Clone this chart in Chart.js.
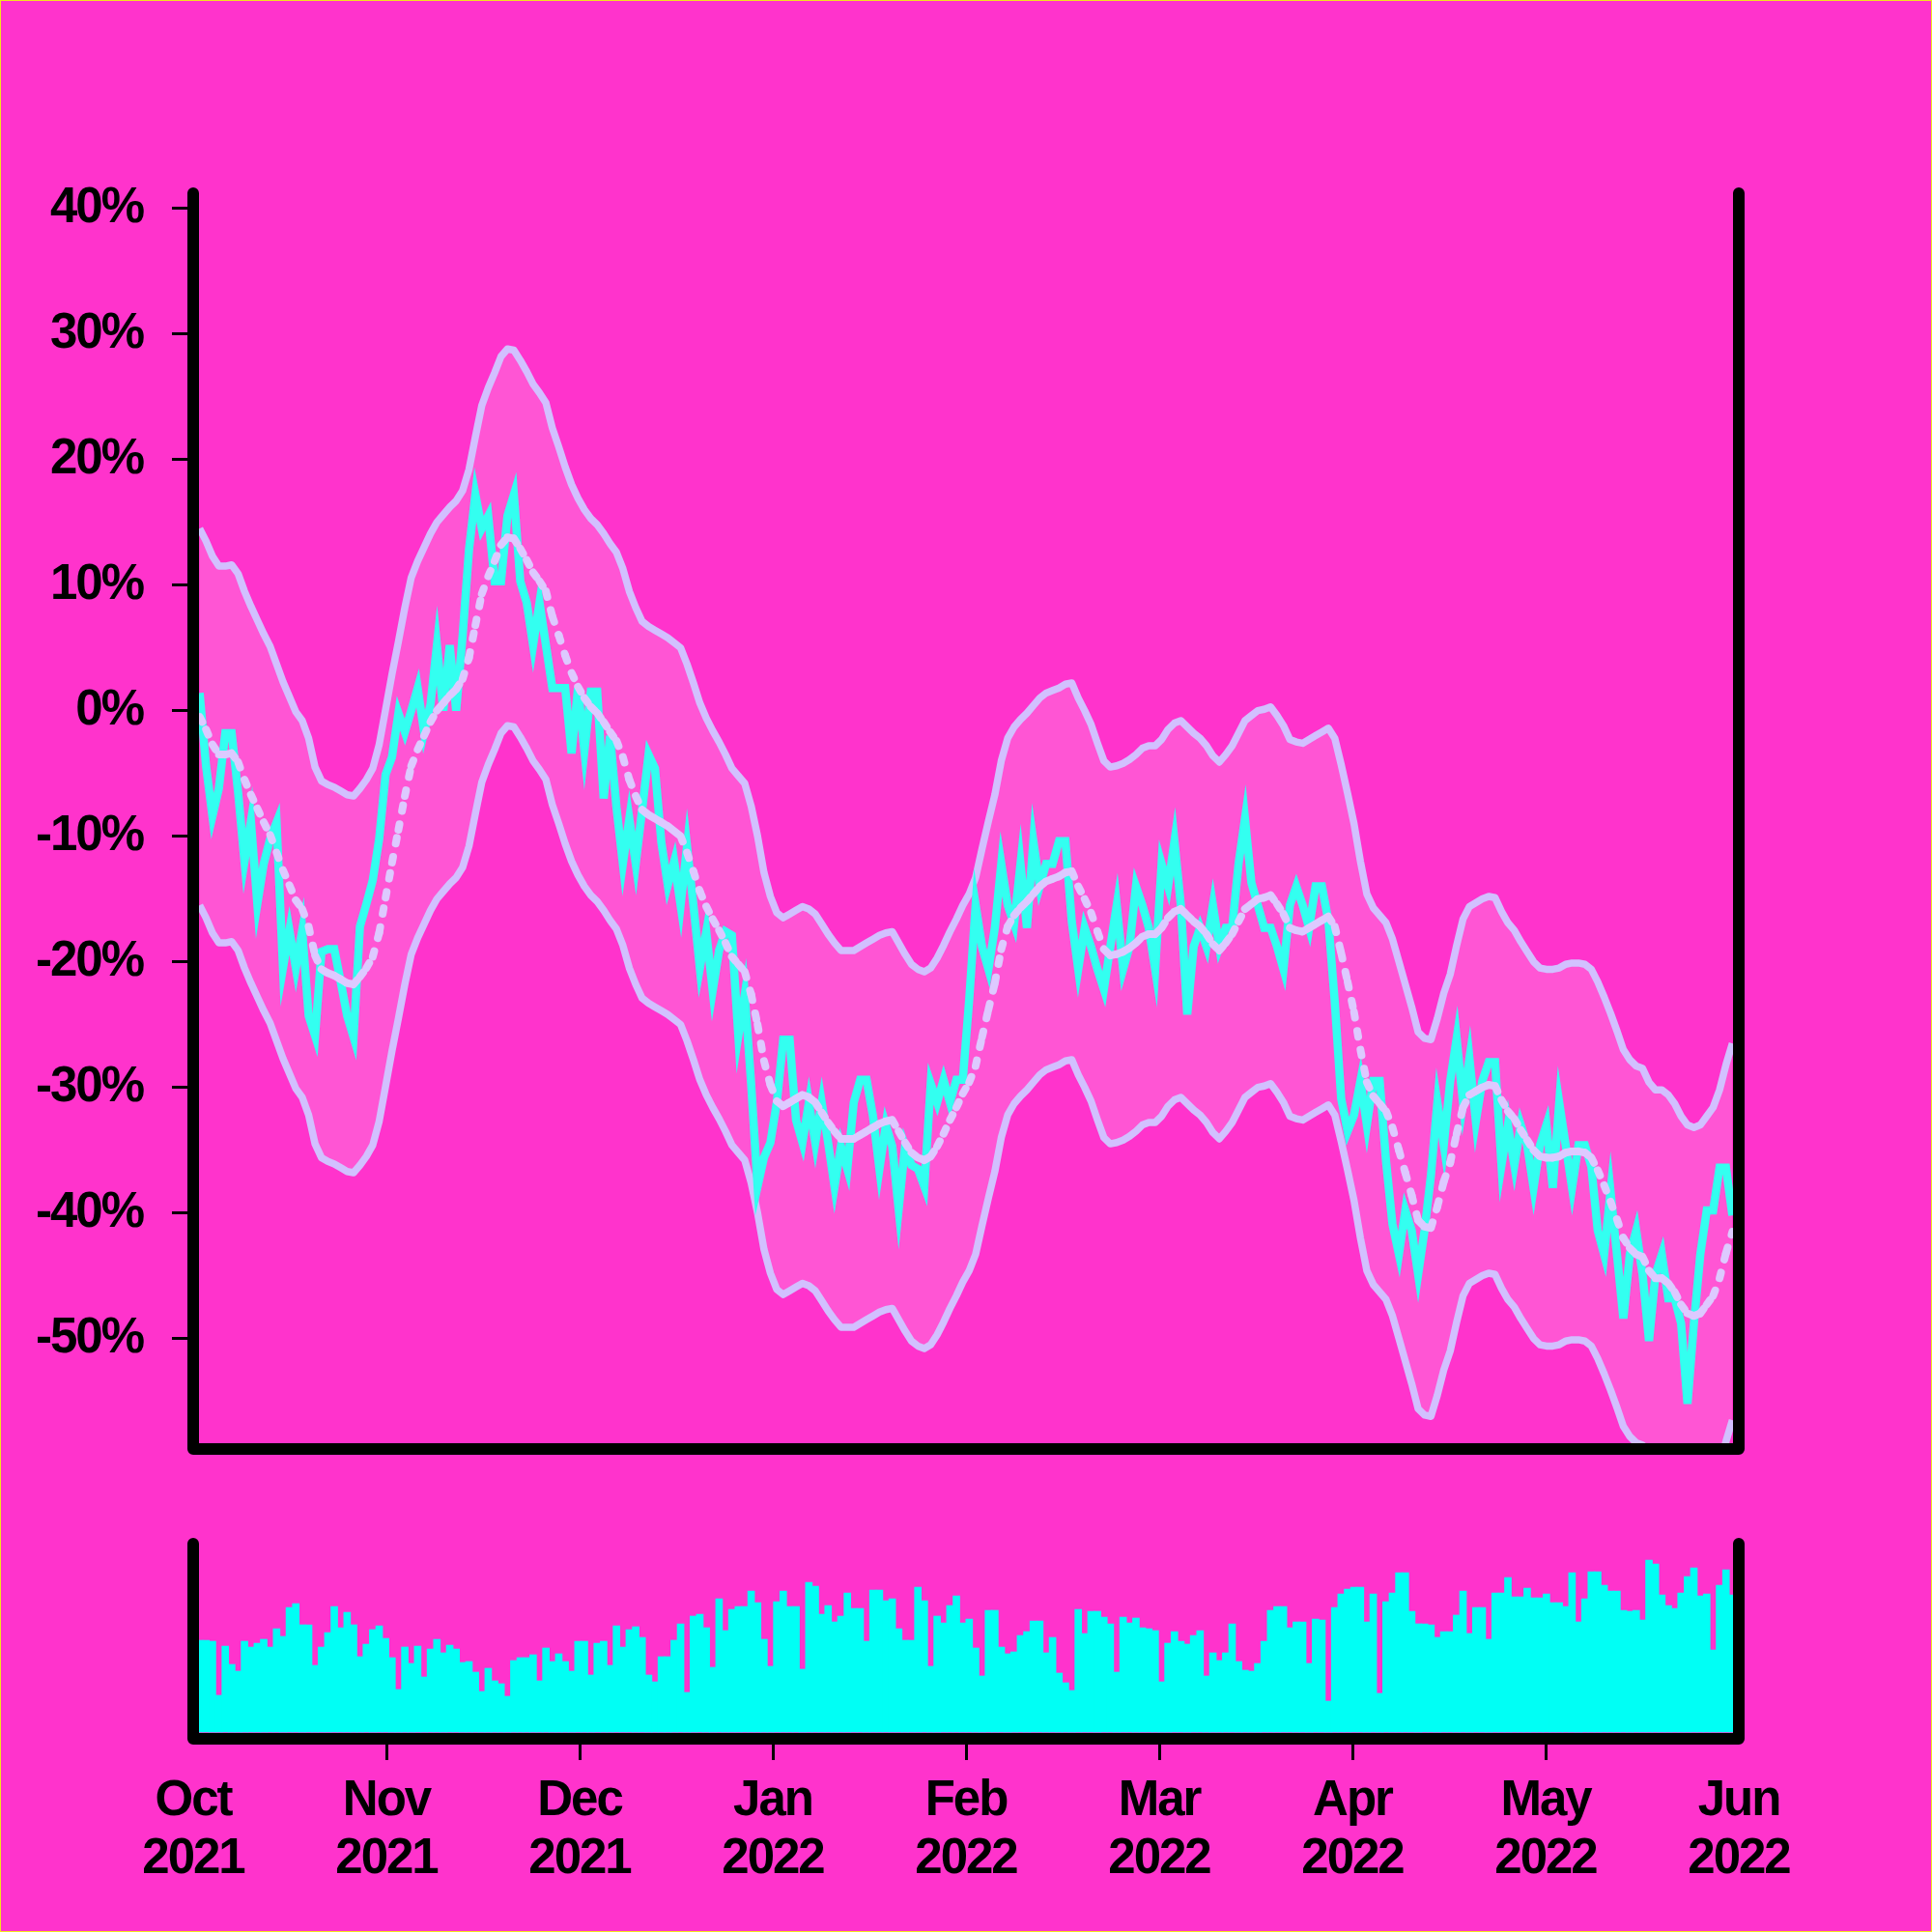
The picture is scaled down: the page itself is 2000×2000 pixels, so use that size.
<!DOCTYPE html>
<html lang="en">
<head>
  <meta charset="UTF-8">
  <title>Return bands and volume</title>
  <style>
    html, body { margin: 0; padding: 0; background: #ff33cc; }
    .page { position: relative; width: 2000px; height: 2000px; overflow: hidden; }
    .page canvas { position: absolute; left: 0; }
    #mainChart { top: 0; }
    #volChart { top: 1540px; }
    .edge { position: absolute; left: 0; top: 0; width: 2000px; height: 2000px; box-sizing: border-box; border: 1px solid #f4e41c; pointer-events: none; }
  </style>
</head>
<body>
  <div class="page">
    <canvas id="mainChart" width="2000" height="1600"></canvas>
    <canvas id="volChart" width="2000" height="460"></canvas>
    <div class="edge"></div>
  </div>

  <script src="https://cdn.jsdelivr.net/npm/chart.js"></script>
  <script>
  // daily values, Oct 2021 - Jun 2022 (one per trading day)
  const monthLabels = [['Oct', '2021'], ['Nov', '2021'], ['Dec', '2021'], ['Jan', '2022'], ['Feb', '2022'],
                       ['Mar', '2022'], ['Apr', '2022'], ['May', '2022'], ['Jun', '2022']]
  const yTicks = [40, 30, 20, 10, 0, -10, -20, -30, -40, -50]

  // cumulative return, %
  const returns = [
    1.4, -4.4, -8.4, -6.2, -1.8, -1.8, -6.5, -12, -8.8, -15.4,
    -12.2, -10.2, -8.9, -20.5, -17.5, -20.5, -17.5, -24.3, -25.9, -19.2,
    -19, -19, -21.6, -24.3, -26, -17.2, -15.4, -13.5, -10.2, -5.1,
    -3.7, -0.2, -1.7, 0, 1.8, -1.7, 0.5, 5.2, 0, 5.2,
    0, 5.9, 12.8, 17.2, 14.5, 15.5, 10.3, 10.3, 15.5, 17.2,
    10.3, 8.6, 5.2, 8.6, 5.2, 1.8, 1.8, 1.8, -3.4, 1.8,
    -3.2, 1.5, 1.5, -7, -2, -7.7, -12.2, -8.6, -12.2, -7.9,
    -3.5, -4.6, -10.5, -13.9, -12, -15.5, -10.8, -15.5, -20.5, -17.6,
    -22.3, -19.1, -17.6, -17.9, -25.9, -22.6, -29.7, -37.9, -35.6, -34.4,
    -31.2, -26.2, -26.2, -32.6, -34.4, -31.2, -34.4, -31.2, -34.4, -37.9,
    -34.7, -36.5, -31.2, -29.4, -29.4, -32.3, -36.5, -33, -34.7, -39.7,
    -34.7, -36.2, -36.5, -37.9, -29.7, -31.2, -29.4, -31.2, -29.4, -29.4,
    -23, -15.5, -18.8, -20.6, -17.3, -12.2, -15.5, -17, -12.2, -17.3,
    -10.4, -14, -12.2, -12.2, -10.4, -10.4, -16.8, -20.6, -17.3, -18.8,
    -20.6, -22.2, -18.8, -15.5, -20.6, -18.8, -14, -15.5, -17.3, -20.6,
    -12.2, -14, -10.4, -15.5, -24.2, -18.8, -17.3, -18.8, -15.5, -18.8,
    -17.3, -17.3, -12.2, -8.6, -13.7, -15.5, -17.3, -17.3, -18.8, -20.6,
    -15.5, -14, -15.5, -17.3, -14, -14, -16.7, -23.2, -30.9, -33.5,
    -32.2, -29.5, -33, -29.5, -29.5, -35.9, -40.9, -43.3, -39.8, -41.4,
    -44.9, -41.4, -37, -31.2, -34.6, -29.5, -26.1, -31.2, -27.7, -32.7,
    -29.5, -28, -28, -36.2, -33, -36.2, -33, -34.6, -38, -34.6,
    -33, -38, -31.2, -34.6, -38, -34.6, -34.6, -36.3, -41.4, -43.3,
    -38.3, -43.3, -48.4, -43.3, -41.4, -44.9, -50.2, -44.9, -43.3, -46.8,
    -46.8, -48.8, -55.2, -48.8, -43.3, -39.8, -39.8, -36.4, -36.4, -40.2
  ]

  // rolling mean of the return, %
  const rollingMean = [
    -0.5, -1.5, -2.7, -3.5, -3.5, -3.4, -4.1, -5.5, -6.7, -7.8,
    -8.9, -9.9, -11.3, -12.7, -13.9, -15.1, -15.8, -17.2, -19.5, -20.6,
    -20.9, -21.1, -21.4, -21.7, -21.8, -21.2, -20.5, -19.6, -17.7, -14.9,
    -12.1, -9.5, -6.8, -4.4, -3.1, -2, -0.9, 0, 0.6, 1.2,
    1.7, 2.5, 4.2, 6.8, 9.3, 10.7, 11.9, 13.2, 13.8, 13.7,
    12.9, 12, 11, 10.3, 9.5, 7.5, 6, 4.4, 3, 1.9,
    1, 0.3, -0.2, -0.9, -1.7, -2.4, -3.7, -5.5, -6.8, -7.9,
    -8.3, -8.6, -8.9, -9.2, -9.6, -10, -11.3, -12.8, -14.4, -15.6,
    -16.6, -17.5, -18.5, -19.6, -20.2, -20.8, -22.6, -25, -27.9, -29.8,
    -31.1, -31.5, -31.2, -30.9, -30.6, -30.8, -31.2, -32, -32.8, -33.5,
    -34.1, -34.1, -34.1, -33.8, -33.5, -33.2, -32.9, -32.7, -32.6, -33.5,
    -34.4, -35.2, -35.6, -35.8, -35.5, -34.7, -33.7, -32.6, -31.6, -30.5,
    -29.6, -28.3, -26, -23.8, -21.7, -19, -17.2, -16.3, -15.7, -15.2,
    -14.6, -14, -13.6, -13.4, -13.2, -12.9, -12.8, -14, -15, -16.1,
    -17.6, -19, -19.5, -19.4, -19.2, -18.9, -18.5, -18, -17.8, -17.8,
    -17.3, -16.5, -16, -15.8, -16.3, -16.8, -17.2, -17.8, -18.6, -19.1,
    -18.5, -17.8, -16.8, -15.8, -15.4, -15, -14.9, -14.7, -15.4, -16.2,
    -17.3, -17.5, -17.6, -17.3, -17, -16.7, -16.4, -17.2, -19.3, -21.6,
    -24, -27, -29.6, -30.7, -31.3, -31.9, -33.2, -35, -36.8, -38.6,
    -40.6, -41.1, -41.2, -39.5, -37.5, -36, -33.7, -31.6, -30.6, -30.3,
    -30, -29.8, -29.9, -31, -31.9, -32.5, -33.4, -34.2, -35, -35.5,
    -35.6, -35.6, -35.5, -35.2, -35.1, -35.1, -35.2, -35.6, -36.6, -37.8,
    -39.1, -40.5, -42, -42.8, -43.3, -43.5, -44.6, -45.2, -45.2, -45.6,
    -46.3, -47.3, -48, -48.2, -48, -47.3, -46.6, -45.2, -43.2, -41.5
  ]
  const bandHalfWidth = 15

  // traded volume (no scale shown)
  const volume = [
    95, 95, 94, 38, 89, 70, 63, 94, 88, 92,
    96, 88, 107, 99, 129, 133, 111, 111, 69, 88,
    103, 130, 108, 124, 111, 78, 91, 106, 110, 97,
    77, 44, 88, 71, 89, 57, 86, 96, 82, 90,
    86, 72, 73, 62, 42, 66, 53, 50, 37, 74,
    77, 77, 80, 53, 87, 73, 81, 73, 63, 94,
    94, 59, 92, 94, 69, 110, 88, 106, 109, 98,
    59, 52, 78, 78, 95, 112, 41, 120, 122, 108,
    67, 138, 105, 127, 130, 130, 146, 134, 96, 68,
    135, 146, 130, 130, 65, 155, 151, 122, 131, 114,
    120, 144, 128, 128, 94, 147, 147, 136, 138, 107,
    95, 95, 150, 136, 68, 120, 113, 131, 141, 113,
    117, 87, 58, 126, 126, 88, 81, 83, 100, 104,
    115, 115, 82, 98, 61, 51, 43, 127, 102, 125,
    125, 119, 112, 62, 119, 113, 118, 108, 107, 105,
    52, 92, 104, 94, 91, 100, 105, 58, 82, 74,
    82, 112, 73, 64, 63, 71, 94, 126, 130, 130,
    108, 114, 114, 71, 117, 116, 32, 129, 143, 148,
    150, 150, 114, 143, 40, 135, 144, 165, 165, 125,
    112, 112, 111, 98, 104, 104, 121, 146, 102, 129,
    129, 96, 144, 144, 160, 140, 140, 149, 139, 139,
    143, 134, 134, 130, 165, 114, 138, 166, 166, 152,
    146, 146, 126, 125, 126, 116, 178, 174, 142, 131,
    128, 144, 161, 170, 141, 143, 85, 152, 168, 142
  ]

  const xMax = 241
  const monthTicks = monthLabels.map((_, i) => i * xMax / (monthLabels.length - 1))
  const toPoints = arr => arr.map((v, i) => ({x: i + 1, y: v}))

  const fontFamily = "'Liberation Sans', Arial, sans-serif"
  const tickFont = {family: fontFamily, size: 51, weight: 'bold', lineHeight: 1.18}

  // tighter tracking on the tick labels, and the black frame with round ends
  const framePlugin = {
    id: 'frame',
    beforeUpdate: (chart) => { chart.ctx.letterSpacing = '-2px' },
    beforeDraw: (chart) => { chart.ctx.letterSpacing = '-2px' },
    afterDraw: (chart) => {
      const {ctx, chartArea} = chart
      ctx.save()
      ctx.strokeStyle = '#000'
      ctx.lineWidth = 12
      ctx.lineCap = 'round'
      ctx.lineJoin = 'round'
      ctx.beginPath()
      ctx.moveTo(chartArea.left, chartArea.top)
      ctx.lineTo(chartArea.left, chartArea.bottom)
      ctx.lineTo(chartArea.right, chartArea.bottom)
      ctx.lineTo(chartArea.right, chartArea.top)
      ctx.stroke()
      ctx.restore()
    }
  }

  const bandColor = '#d2c0ff'

  new Chart(document.getElementById('mainChart'), {
    type: 'line',
    data: {
      datasets: [
        {
          data: toPoints(rollingMean.map(v => v + bandHalfWidth)),
          borderColor: bandColor,
          borderWidth: 7.5,
          borderJoinStyle: 'round',
          backgroundColor: 'rgba(255,255,255,0.17)',
          fill: '+1',
          pointRadius: 0,
          order: 3
        },
        {
          data: toPoints(rollingMean.map(v => v - bandHalfWidth)),
          borderColor: bandColor,
          borderWidth: 7.5,
          borderJoinStyle: 'round',
          fill: false,
          pointRadius: 0,
          order: 2
        },
        {
          data: toPoints(returns),
          borderColor: '#33fff0',
          borderWidth: 8.5,
          borderJoinStyle: 'miter',
          fill: false,
          pointRadius: 0,
          order: 1
        },
        {
          data: toPoints(rollingMean),
          borderColor: '#ddc9ff',
          borderWidth: 8,
          borderDash: [6, 14],
          borderCapStyle: 'round',
          fill: false,
          pointRadius: 0,
          order: 0,
          // each day's segment restarts the dash, so flat stretches look solid
          segment: {
            borderDashOffset: c => (c.p0DataIndex % 2) * 0.01
          }
        }
      ]
    },
    options: {
      responsive: false,
      animation: false,
      events: [],
      layout: {padding: {left: 0, right: 200, top: 200, bottom: 100}},
      plugins: {legend: {display: false}, tooltip: {enabled: false}},
      scales: {
        x: {type: 'linear', display: false, min: 0, max: xMax},
        y: {
          min: -58.8,
          max: 41.2,
          afterFit: (scale) => { scale.width = 200 },
          afterBuildTicks: (scale) => { scale.ticks = yTicks.map(v => ({value: v})) },
          border: {display: false},
          grid: {drawOnChartArea: false, tickLength: 22, tickWidth: 3, tickColor: '#000'},
          ticks: {color: '#000', font: tickFont, padding: 30, callback: v => v + '%'}
        }
      }
    },
    plugins: [framePlugin]
  })

  new Chart(document.getElementById('volChart'), {
    type: 'bar',
    data: {
      datasets: [{
        data: toPoints(volume),
        backgroundColor: '#00fff5',
        borderWidth: 0,
        barThickness: 7
      }]
    },
    options: {
      responsive: false,
      animation: false,
      events: [],
      layout: {padding: {left: 200, right: 200, top: 58, bottom: 0}},
      plugins: {legend: {display: false}, tooltip: {enabled: false}},
      scales: {
        x: {
          type: 'linear',
          min: 0,
          max: xMax,
          offset: false,
          afterFit: (scale) => { scale.height = 200 },
          afterBuildTicks: (scale) => { scale.ticks = monthTicks.map(v => ({value: v})) },
          border: {display: false},
          grid: {
            offset: false,
            drawOnChartArea: false,
            tickLength: 22,
            tickWidth: 3,
            tickColor: c => (c.index === 0 || c.index === monthTicks.length - 1) ? 'rgba(0,0,0,0)' : '#000'
          },
          ticks: {
            color: '#000',
            font: tickFont,
            padding: 13,
            maxRotation: 0,
            autoSkip: false,
            callback: (v, i) => monthLabels[i]
          }
        },
        y: {display: false, min: -7, max: 195}
      }
    },
    plugins: [framePlugin]
  })
  </script>
</body>
</html>
